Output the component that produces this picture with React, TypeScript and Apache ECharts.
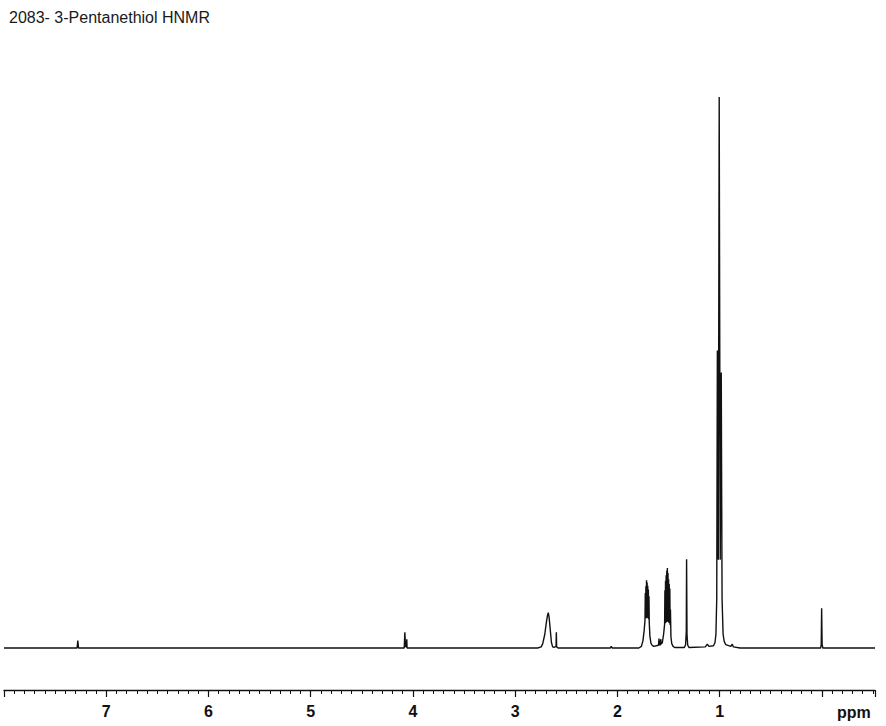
import React, { useEffect, useRef } from "react";
import * as echarts from "echarts";

const TITLE = "2083- 3-Pentanethiol HNMR";
const X_MIN = -0.52;
const X_MAX = 8.0;
const Y_MIN = -7.62;
const Y_MAX = 100;

// [ppm, relative intensity]
const baseline: number[][] = [[8.0, 0], [7.285, 0]];
const chcl3: number[][] = [[7.278, 1.35], [7.271, 0], [4.1, 0]];
const peak408: number[][] = [
  [4.085, 0], [4.079, 2.85], [4.073, 0.3], [4.065, 0.2], [4.06, 1.6], [4.057, 0], [2.78, 0],
];
const peak268: number[][] = [
  [2.745, 0.2], [2.73, 0.8], [2.71, 2.5], [2.695, 4.6], [2.685, 5.8], [2.676, 6.4],
  [2.668, 5.6], [2.655, 3.0], [2.645, 1.0], [2.633, 0.2], [2.62, 0.1], [2.6, 0.3],
  [2.597, 2.85], [2.594, 0.2], [2.58, 0], [2.07, 0], [2.06, 0.3], [2.05, 0], [1.79, 0],
];
const peak170: number[][] = [
  [1.765, 0.3], [1.75, 1.3], [1.738, 3.2], [1.73, 5.0],
  [1.727, 10.0], [1.724, 5.4], [1.721, 11.2], [1.718, 5.4], [1.715, 12.3], [1.712, 5.5],
  [1.709, 11.9], [1.706, 5.5], [1.703, 11.3], [1.7, 5.4], [1.697, 10.6], [1.694, 5.2],
  [1.691, 9.4], [1.688, 4.5], [1.682, 2.2], [1.672, 0.9], [1.66, 0.5], [1.645, 0.3],
];
const smallPeaks160: number[][] = [
  [1.598, 0.5], [1.593, 1.7], [1.588, 0.6], [1.58, 0.5], [1.576, 1.6], [1.571, 0.7],
];
const peak151: number[][] = [
  [1.56, 1.0], [1.548, 2.5], [1.538, 4.3],
  [1.535, 10.5], [1.532, 4.5], [1.529, 12.2], [1.526, 4.6], [1.523, 13.2], [1.52, 4.7],
  [1.517, 14.0], [1.514, 4.8], [1.511, 14.5], [1.508, 4.8], [1.505, 13.6], [1.502, 4.7],
  [1.499, 12.5], [1.496, 4.6], [1.493, 11.6], [1.49, 4.5], [1.487, 10.8], [1.484, 4.2],
  [1.481, 7.0], [1.476, 2.0], [1.468, 0.8], [1.455, 0.3], [1.44, 0.1],
];
const peak132: number[][] = [
  [1.345, 0.1], [1.333, 0.6], [1.326, 3.0], [1.323, 16.1], [1.319, 2.5], [1.312, 0.5],
  [1.3, 0.1], [1.14, 0.2], [1.12, 0.7], [1.105, 0.3],
];
const triplet100: number[][] = [
  [1.06, 0.4], [1.045, 1.0], [1.036, 2.5], [1.028, 9], [1.022, 54], [1.013, 16],
  [1.004, 100], [0.994, 16], [0.984, 50], [0.976, 9], [0.966, 2.5], [0.955, 1.2],
  [0.94, 0.6], [0.89, 0.3], [0.876, 0.7], [0.865, 0.2], [0.8, 0],
];
const tms: number[][] = [[0.012, 0], [0.006, 0.6], [0.002, 7.2], [-0.003, 0.6], [-0.01, 0], [-0.52, 0]];

const spectrum: number[][] = [
  ...baseline, ...chcl3, ...peak408, ...peak268, ...peak170, ...smallPeaks160,
  ...peak151, ...peak132, ...triplet100, ...tms,
];

const TICK_LABELS = ["1", "2", "3", "4", "5", "6", "7"];
const UNIT = "ppm";

export default function App() {
  const ref = useRef<HTMLDivElement>(null);
  useEffect(() => {
    document.body.style.margin = "0";
    if (!ref.current) return;
    const chart = echarts.init(ref.current, undefined, { renderer: "svg" });
    chart.setOption({
      animation: false,
      backgroundColor: "#ffffff",
      title: {
        text: TITLE,
        left: 4,
        top: 4,
        textStyle: {
          fontSize: 16,
          fontWeight: "normal",
          color: "#1a1a1a",
          fontFamily: "Liberation Sans, Arial, sans-serif",
        },
      },
      grid: { left: 4, right: 11, top: 97, bottom: 36, containLabel: false },
      xAxis: {
        type: "value",
        inverse: true,
        min: X_MIN,
        max: X_MAX,
        splitNumber: 8,
        splitLine: { show: false },
        axisLine: { onZero: false, lineStyle: { color: "#111", width: 1.3 } },
        axisTick: { show: true, length: 7, lineStyle: { color: "#111", width: 1.2 } },
        minorTick: { show: true, splitNumber: 10, length: 4, lineStyle: { color: "#111", width: 1 } },
        axisLabel: {
          showMinLabel: false,
          showMaxLabel: false,
          margin: 13,
          fontSize: 16,
          fontWeight: "bold",
          color: "#111",
          fontFamily: "Liberation Sans, Arial, sans-serif",
          formatter: (v: number) => (TICK_LABELS.includes(String(v)) ? String(v) : ""),
        },
      },
      yAxis: { type: "value", min: Y_MIN, max: Y_MAX, show: false },
      graphic: [
        {
          type: "text",
          left: 837,
          top: 704,
          style: {
            text: UNIT,
            fontSize: 16,
            fontWeight: "bold",
            fill: "#111",
            fontFamily: "Liberation Sans, Arial, sans-serif",
          },
        },
      ],
      series: [
        {
          type: "line",
          data: spectrum,
          showSymbol: false,
          symbol: "none",
          lineStyle: { color: "#111", width: 1.4 },
          clip: false,
        },
      ],
    });
    return () => chart.dispose();
  }, []);
  return <div ref={ref} style={{ width: 886, height: 726 }} />;
}
